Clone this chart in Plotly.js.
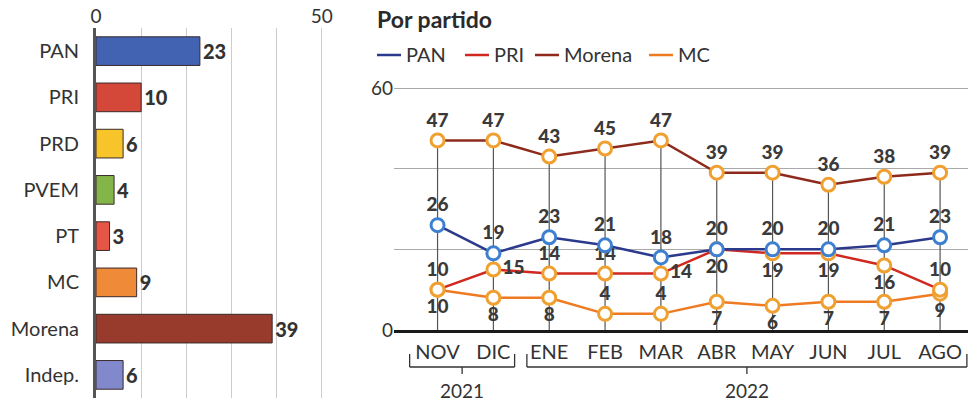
<!DOCTYPE html>
<html>
<head>
<meta charset="utf-8">
<script src="https://cdn.plot.ly/plotly-3.0.1.min.js"></script>
<style>html,body{margin:0;padding:0;background:#fff;}#chart{width:968px;height:403px;}</style>
</head>
<body>
<div id="chart"></div>
<script>
// ---- Data ----
const parties = ['PAN', 'PRI', 'PRD', 'PVEM', 'PT', 'MC', 'Morena', 'Indep.'];
const partyValues = [23, 10, 6, 4, 3, 9, 39, 6];
const partyColors = ['#4262b2', '#d4483a', '#f7c52a', '#84b548', '#e65646', '#ee8a38', '#983a2c', '#8188cc'];

const months = ['NOV', 'DIC', 'ENE', 'FEB', 'MAR', 'ABR', 'MAY', 'JUN', 'JUL', 'AGO'];
const panSeries = [26, 19, 23, 21, 18, 20, 20, 20, 21, 23];
const priSeries = [10, 15, 14, 14, 14, 20, 19, 19, 16, 10];
const morenaSeries = [47, 47, 43, 45, 47, 39, 39, 36, 38, 39];
const mcSeries = [10, 8, 8, 4, 4, 7, 6, 7, 7, 9];

const yearLabels = ['2021', '2022'];
const yearFirstMonth = [0, 2];
const yearLastMonth = [1, 9];

const seriesNames = ['PAN', 'PRI', 'Morena', 'MC'];
const seriesColors = ['#2b3a8c', '#d0281f', '#8e2a1c', '#ee7a22'];

// ---- Helpers ----
const W = 968, H = 403;
const px = v => v / W;
const py = v => (H - v) / H;
const FONT = 'Lato, "Open Sans", sans-serif';
const TXT = '#333';

const labelFont = {family: FONT, size: 19, color: '#3a3a3a', weight: 900};

function lineTrace(name, y, color, ring, pos) {
  return {
    type: 'scatter', mode: 'lines+markers+text', x: months, y: y, name: name,
    xaxis: 'x2', yaxis: 'y2',
    line: {color: color, width: 2.5},
    marker: {size: 13, color: '#fff', line: {color: ring, width: 3}},
    text: y.map(String), textposition: pos, textfont: labelFont,
    cliponaxis: false, hoverinfo: 'skip', showlegend: false
  };
}

const data = [
  {
    type: 'bar', orientation: 'h', x: partyValues, y: parties,
    marker: {color: partyColors, line: {color: '#3a2a2a', width: 1}},
    text: partyValues.map(String), textposition: 'outside',
    textfont: {family: FONT, size: 20, color: '#333', weight: 900},
    cliponaxis: false, hoverinfo: 'skip', showlegend: false,
    xaxis: 'x', yaxis: 'y'
  },
  // Stems: from each Morena point down to zero
  {
    type: 'scatter', mode: 'markers', x: months, y: morenaSeries, xaxis: 'x2', yaxis: 'y2',
    marker: {size: 1, opacity: 0},
    error_y: {type: 'data', symmetric: false, array: morenaSeries.map(() => 0),
              arrayminus: morenaSeries, color: '#555', thickness: 1.2, width: 0},
    hoverinfo: 'skip', showlegend: false
  },
  lineTrace('MC', mcSeries, seriesColors[3], '#f0a030',
    ['bottom center','bottom center','bottom center','top center','top center','bottom center','bottom center','bottom center','bottom center','bottom center']),
  lineTrace('PRI', priSeries, seriesColors[1], '#f0a030',
    ['top center','middle right','top center','top center','middle right','bottom center','bottom center','bottom center','bottom center','top center']),
  lineTrace('Morena', morenaSeries, seriesColors[2], '#f0a030',
    months.map(() => 'top center')),
  lineTrace('PAN', panSeries, seriesColors[0], '#3d7fd0',
    months.map(() => 'top center'))
];

// ---- Annotations & shapes ----
const annotations = [
  {text: '<b>Por partido</b>', xref: 'paper', yref: 'paper', x: px(375), y: py(19),
   xanchor: 'left', yanchor: 'middle', showarrow: false,
   font: {family: FONT, size: 23, color: '#2a2a2a', weight: 900}}
];
const shapes = [];
const legendX = [377, 465, 535, 649];
seriesNames.forEach((n, i) => {
  shapes.push({type: 'line', xref: 'paper', yref: 'paper', x0: px(legendX[i]), x1: px(legendX[i] + 24),
    y0: py(55), y1: py(55), line: {color: seriesColors[i], width: 2.5}});
  annotations.push({
    text: n, xref: 'paper', yref: 'paper', x: px(legendX[i] + 27), y: py(54), xanchor: 'left', yanchor: 'middle',
    showarrow: false, font: {family: FONT, size: 20, color: TXT}
  });
});
const bracketStart = [-0.5, 1.6];
const bracketEnd = [1.38, 9.48];
yearLabels.forEach((lab, i) => {
  const a = bracketStart[i], b = bracketEnd[i];
  const c = (a + b) / 2;
  const yt = py(354), yb = py(367), yc = py(374);
  const ln = {color: '#333', width: 1.3};
  shapes.push({type: 'line', xref: 'x2', yref: 'paper', x0: a, x1: a, y0: yt, y1: yb, line: ln});
  shapes.push({type: 'line', xref: 'x2', yref: 'paper', x0: a, x1: b, y0: yb, y1: yb, line: ln});
  shapes.push({type: 'line', xref: 'x2', yref: 'paper', x0: b, x1: b, y0: yt, y1: yb, line: ln});
  shapes.push({type: 'line', xref: 'x2', yref: 'paper', x0: c, x1: c, y0: yb, y1: yc, line: ln});
  annotations.push({text: lab, xref: 'x2', yref: 'paper', x: c, y: py(390), xanchor: 'center', yanchor: 'middle',
    showarrow: false, font: {family: FONT, size: 19, color: TXT}});
});

const layout = {
  width: W, height: H,
  margin: {l: 0, r: 0, t: 0, b: 0},
  paper_bgcolor: '#fff', plot_bgcolor: 'rgba(0,0,0,0)',
  font: {family: FONT, color: TXT},
  bargap: 0.38,
  showlegend: false,
  xaxis: {
    domain: [px(96), px(358)], range: [0, 58], side: 'top',
    tickvals: [0, 10, 20, 30, 40, 50], ticktext: ['0', '', '', '', '', '50'],
    showgrid: true, gridcolor: '#cccccc', gridwidth: 1,
    zeroline: false, showline: false, ticks: '',
    tickfont: {family: FONT, size: 19, color: TXT}, anchor: 'y'
  },
  yaxis: {
    domain: [py(398), py(28)], autorange: 'reversed', type: 'category',
    showline: true, linecolor: '#555', linewidth: 3, ticks: '', ticklabelstandoff: 10,
    tickfont: {family: FONT, size: 20, color: TXT}, anchor: 'x', showgrid: false, zeroline: false
  },
  xaxis2: {
    domain: [px(394), 1], range: [-0.78, 9.5], type: 'category',
    showline: true, linecolor: '#1a1a1a', linewidth: 3, ticks: '', showgrid: false,
    tickfont: {family: FONT, size: 20, color: TXT}, ticklabelstandoff: 2, anchor: 'y2'
  },
  yaxis2: {
    domain: [py(330), py(86)], range: [0, 60.5],
    tickvals: [0, 20, 40, 60], ticktext: ['0', '', '', '60'],
    showgrid: true, gridcolor: '#aaaaaa', gridwidth: 1,
    zeroline: false, showline: false, ticks: '',
    tickfont: {family: FONT, size: 19, color: TXT}, anchor: 'x2'
  },
  annotations: annotations,
  shapes: shapes
};

Plotly.newPlot('chart', data, layout, {staticPlot: true, displayModeBar: false});
</script>
</body>
</html>
